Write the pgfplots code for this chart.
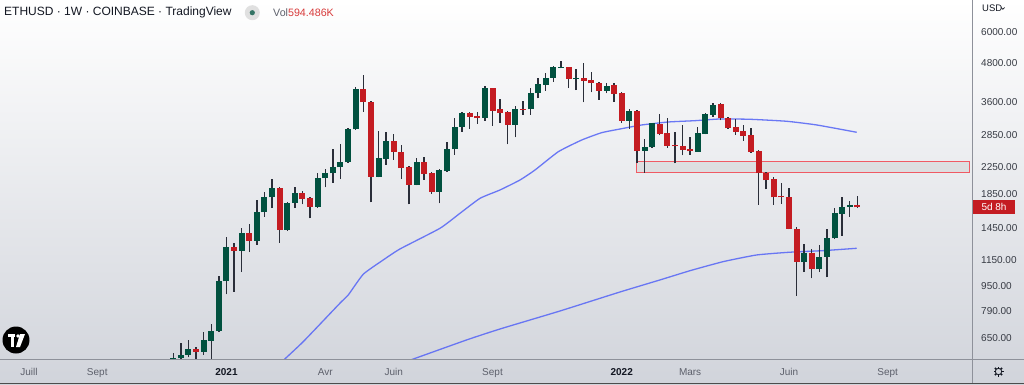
\documentclass[border=0pt]{standalone}
\usepackage{pgfplots}
\pgfplotsset{compat=1.18}
\usepackage{pgfplotstable}
\usepackage{fontspec}
\setmainfont{Liberation Sans}
\definecolor{upc}{HTML}{01513F}
\definecolor{dnc}{HTML}{C41C22}
\definecolor{wick}{HTML}{2A2E39}
\definecolor{ma}{HTML}{5C6BF5}
\definecolor{txt}{HTML}{131722}
\definecolor{lbl}{HTML}{5D606B}
\definecolor{bgbot}{HTML}{D1D4DB}
\definecolor{border}{HTML}{8E919A}
\definecolor{rectc}{HTML}{F05A64}
\definecolor{volred}{HTML}{D83A3A}

\pgfplotstableread{
n o h l c
0 534 582 515 561
1 561 626 550 576
2 575 641 565 602
4 589 681 575 639
5 638 718 546 684
6 684 1020 681 984
7 981 1351 893 1256
9 1226 1448 1048 1391
11 1315 1771 1278 1623
12 1620 1881 1569 1814
13 1806 2059 1668 1930
15 1425 1746 1419 1737
16 1737 1953 1668 1860
19 1688 2150 1677 2074
20 2074 2214 1942 2150
21 2150 2560 2008 2246
22 2246 2654 2059 2329
23 2329 2988 2317 2960
24 2960 4015 2945 3957
27 2093 2923 2086 2394
28 2386 2896 2284 2725
32 1980 2398 1971 2329
35 1881 2214 1729 2198
36 2182 2705 2171 2560
37 2560 3206 2456 3016
38 3016 3363 2909 3339
41 3213 4062 3151 3986
45 3061 3513 2793 3430
47 3422 4004 3284 3861
48 3844 4303 3707 4104
49 4083 4465 3918 4303
50 4296 4697 4182 4643
51 4630 4871 4610 4663
53 4256 4576 3937 4296
57 3918 4134 3844 4062
60 3151 3422 2966 3380
62 2534 2752 2160 2609
63 2597 3105 2584 3092
69 2515 3003 2510 2875
70 2860 3325 2850 3308
71 3292 3591 3244 3539
83 1127 1287 1048 1203
85 1071 1278 1048 1174
86 1171 1432 1010 1341
87 1341 1668 1334 1608
88 1600 1806 1364 1688
89 1688 1758 1569 1704
}\upcandles

\pgfplotstableread{
n o h l c
3 602 608 546 589
8 1256 1293 910 1226
10 1391 1485 1212 1315
14 1930 1947 1299 1425
17 1860 1895 1717 1784
18 1793 1814 1551 1688
25 3957 4391 3363 3601
26 3601 3622 1742 2098
29 2725 2854 2368 2510
30 2510 2641 2059 2231
31 2256 2267 1717 1980
33 2329 2426 2048 2139
34 2160 2171 1850 1881
39 3339 3363 2966 3244
40 3260 3356 3076 3209
42 3986 3995 3032 3388
43 3422 3697 3105 3339
44 3363 3380 2654 3061
46 3437 3643 3284 3413
52 4643 4653 3995 4274
54 4296 4801 3601 4203
55 4234 4487 3872 4134
56 4152 4173 3662 3918
58 4074 4134 3616 3825
59 3844 3889 3105 3151
61 3380 3393 2322 2534
64 3076 3300 2830 2860
65 2875 3206 2584 2622
66 2641 2896 2312 2616
67 2616 3054 2447 2547
68 2560 2793 2456 2523
72 3544 3570 3155 3201
73 3206 3229 2966 2981
74 2999 3190 2840 2909
75 2928 3054 2719 2825
76 2840 2981 2497 2510
77 2528 2547 1708 2150
78 2155 2163 1912 2044
79 2059 2089 1714 1806
80 1821 2004 1721 1806
81 1814 1928 1430 1435
82 1435 1456 882 1129
84 1203 1238 1003 1073
90 1704 1827 1671 1680
}\downcandles

\pgfplotstableread{
n p
14.24 546
17.1 633
21.93 837
23.03 889
25.0 1033
27.63 1146
29.83 1241
35.09 1442
37.72 1608
40.36 1793
42.99 1905
45.62 2048
47.59 2202
50.66 2515
53.74 2738
56.37 2888
59.0 2973
61.63 3054
65.13 3121
68.64 3151
71.93 3190
75.88 3183
80.71 3137
84.66 3054
89.92 2896
}\maone

\pgfplotstableread{
n p
30.49 546
38.6 641
42.99 694
50.88 791
58.78 908
64.04 991
68.0 1060
72.37 1132
76.76 1188
81.14 1212
85.53 1226
89.92 1247
}\matwo

\begin{document}
\begin{tikzpicture}
% background gradient
\fill[top color=white, bottom color=bgbot] (0pt,0pt) rectangle (1024pt,-384pt);

\begin{axis}[
  at={(0pt,0pt)}, anchor=north west,
  scale only axis, width=972pt, height=359.5pt,
  xmin=-22.8, xmax=105.09,
  ymode=log, ymin=556, ymax=7570,
  axis line style={draw=none},
  major tick length=0pt,
  xtick={-19,-10,7,20,29,42,59,68,81,94},
  xticklabels={Juill,Sept,{\color{txt}\bfseries 2021},Avr,Juin,Sept,{\color{txt}\bfseries 2022},Mars,Juin,Sept},
  xticklabel style={anchor=base, inner sep=0pt, yshift=-16pt, font=\fontsize{10}{12}\selectfont, text=lbl},
  ytick={650,790,950,1150,1450,1850,2250,2850,3600,4800,6000},
  yticklabels={650.00,790.00,950.00,1150.00,1450.00,1850.00,2250.00,2850.00,3600.00,4800.00,6000.00},
  yticklabel pos=right,
  yticklabel style={anchor=base west, inner sep=0pt, xshift=9pt, yshift=-3.6pt, font=\fontsize{10}{12}\selectfont, text=txt!85},
  clip=true,
]
% zone rectangle
\draw[draw=rectc, line width=0.9pt, fill=black, fill opacity=0.06] (axis cs:60.9,2166) rectangle (axis cs:104.8,2351);

% moving averages
\addplot[ma, line width=1.3pt, opacity=0.9, smooth, tension=0.3] table[x=n, y=p] {\maone};
\addplot[ma, line width=1.3pt, opacity=0.9, smooth, tension=0.3] table[x=n, y=p] {\matwo};

% wicks
\addplot[draw=none, forget plot, error bars/.cd, y dir=plus, y explicit, error mark=none,
  error bar style={line width=1.3pt, draw=wick, solid}]
  table[x=n, y=l, y error expr=\thisrow{h}-\thisrow{l}] {\upcandles};
\addplot[draw=none, forget plot, error bars/.cd, y dir=plus, y explicit, error mark=none,
  error bar style={line width=1.3pt, draw=wick, solid}]
  table[x=n, y=l, y error expr=\thisrow{h}-\thisrow{l}] {\downcandles};
% bodies
\addplot[draw=none, forget plot, error bars/.cd, y dir=plus, y explicit, error mark=none,
  error bar style={line width=6pt, draw=upc, solid}]
  table[x=n, y=o, y error expr=\thisrow{c}-\thisrow{o}] {\upcandles};
\addplot[draw=none, forget plot, error bars/.cd, y dir=plus, y explicit, error mark=none,
  error bar style={line width=6pt, draw=dnc, solid}]
  table[x=n, y=c, y error expr=\thisrow{o}-\thisrow{c}] {\downcandles};
\end{axis}

% panel borders
\draw[border, line width=0.8pt] (972pt,0pt) -- (972pt,-384pt);
\draw[border, line width=0.8pt] (0pt,-359.5pt) -- (1024pt,-359.5pt);
\draw[black!70, line width=1pt] (0pt,-383.5pt) -- (1024pt,-383.5pt);

% header
\node[anchor=west, inner sep=0pt, text=txt, font=\fontsize{12}{14}\selectfont] at (4pt,-12.5pt) {ETHUSD · 1W · COINBASE · TradingView};
\fill[black!12] (252.3pt,-12.7pt) circle (7.5pt);
\fill[upc!80] (252.3pt,-12.7pt) circle (2.6pt);
\node[anchor=west, inner sep=0pt, font=\fontsize{10.7}{13}\selectfont] at (273pt,-13pt) {\textcolor{lbl}{Vol}\textcolor{volred}{594.486K}};

% USD
\node[anchor=west, inner sep=0pt, text=txt, font=\fontsize{9.5}{11}\selectfont] at (982pt,-8.5pt) {USD};
\draw[txt, line width=0.7pt] (1001pt,-7.5pt) -- (1002.8pt,-9.3pt) -- (1004.6pt,-7.5pt);

% last price tag
\fill[dnc] (973pt,-200pt) rectangle (1015pt,-214pt);
\node[text=white, inner sep=0pt, font=\fontsize{10}{12}\selectfont] at (994pt,-207pt) {5d 8h};

% gear
\draw[txt, line width=0.8pt] (998.5pt,-371.5pt) circle (3.2pt);
\foreach \a in {0,45,...,315} \draw[txt, line width=1.5pt] ([shift={(\a:3.2pt)}]998.5pt,-371.5pt) -- ([shift={(\a:5pt)}]998.5pt,-371.5pt);

% TV logo
\fill[black] (16pt,-340pt) circle (13.5pt);
\fill[white] (8pt,-334pt) rectangle (15pt,-337pt);
\fill[white] (11pt,-334pt) rectangle (14pt,-347pt);
\fill[white] (18pt,-336pt) circle (1.8pt);
\fill[white] (20pt,-334pt) -- (25pt,-334pt) -- (20pt,-347pt) -- (16pt,-347pt) -- cycle;

\pgfresetboundingbox
\path[use as bounding box] (0pt,0pt) rectangle (1024pt,-384pt);
\end{tikzpicture}
\end{document}
